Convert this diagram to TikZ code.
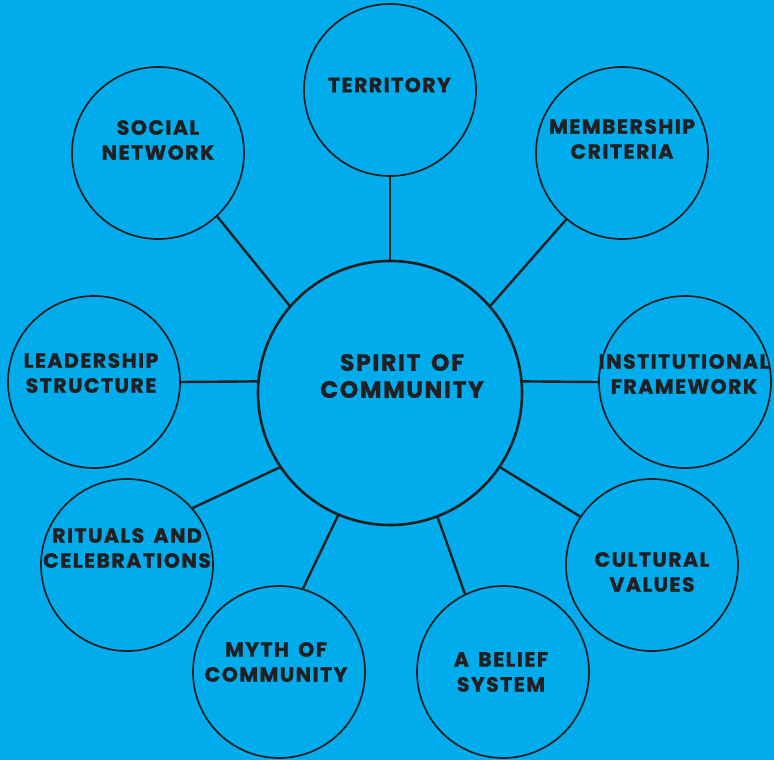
\documentclass[tikz,border=0pt]{standalone}
\usepackage{fontspec}
\setmainfont{Poppins}
\newfontfamily\bubblefont{Poppins}[LetterSpace=7,WordSpace=1.6,BoldFeatures={FakeBold=1.2}]
\usepackage{xcolor}
\usepackage{tikz}
\usetikzlibrary{positioning}
\definecolor{skyblue}{HTML}{00ACEC}
\definecolor{ink}{HTML}{231F20}
\tikzset{
    bubble/.style={draw=ink, circle, line width=1.7pt, inner sep=0pt, minimum size=172pt},
    hub/.style={draw=ink, circle, line width=2.6pt, inner sep=0pt, minimum size=264pt},
    tag/.style={text=ink, align=center, inner sep=0pt,
        font=\bubblefont\bfseries\fontsize{20.5}{25}\selectfont},
    hubtag/.style={text=ink, align=center, inner sep=0pt,
        font=\bubblefont\bfseries\fontsize{23.5}{27}\selectfont},
    link/.style={draw=ink, line width=2.4pt}
}

\begin{document}
\begin{tikzpicture}[x=1pt,y=-1pt]
    \fill[skyblue] (0,0) rectangle (774,760);
    \useasboundingbox (0,0) rectangle (774,760);

    \node[hub] (spirit) at (390,393) {};
    \node[bubble] (territory) at (390,90) {};
    \node[bubble] (social) at (158,153) {};
    \node[bubble] (member) at (622,153) {};
    \node[bubble] (leader) at (94,382) {};
    \node[bubble] (instit) at (685,382) {};
    \node[bubble] (ritual) at (127,565) {};
    \node[bubble] (culture) at (652,565) {};
    \node[bubble] (myth) at (279,672) {};
    \node[bubble] (belief) at (503,672) {};

    \node[hubtag] (spirit-txt) at (402,376) {
        SPIRIT OF\\COMMUNITY
    };
    \node[tag] (territory-txt) at (394,85) {
        TERRITORY
    };
    \node[tag] (social-txt) at (158,140) {
        SOCIAL\\NETWORK
    };
    \node[tag] (member-txt) at (622,139) {
        MEMBERSHIP\\CRITERIA
    };
    \node[tag] (leader-txt) at (91,373) {
        LEADERSHIP\\STRUCTURE
    };
    \node[tag] (instit-txt) at (684,374) {
        INSTITUTIONAL\\FRAMEWORK
    };
    \node[tag] (ritual-txt) at (127,548) {
        RITUALS AND\\CELEBRATIONS
    };
    \node[tag] (culture-txt) at (652,572) {
        CULTURAL\\VALUES
    };
    \node[tag] (myth-txt) at (276,662) {
        MYTH OF\\COMMUNITY
    };
    \node[tag] (belief-txt) at (501,672) {
        A BELIEF\\SYSTEM
    };

    \draw[link] (spirit.90) to (territory.270);
    \draw[link] (spirit.139) to (social.313);
    \draw[link] (spirit.41) to (member.230);
    \draw[link] (spirit.175) to (leader.0);
    \draw[link] (spirit.5) to (instit.180);
    \draw[link] (spirit.214) to (ritual.41);
    \draw[link] (spirit.326) to (culture.146);
    \draw[link] (spirit.247) to (myth.74);
    \draw[link] (spirit.291) to (belief.116);
\end{tikzpicture}
\end{document}
